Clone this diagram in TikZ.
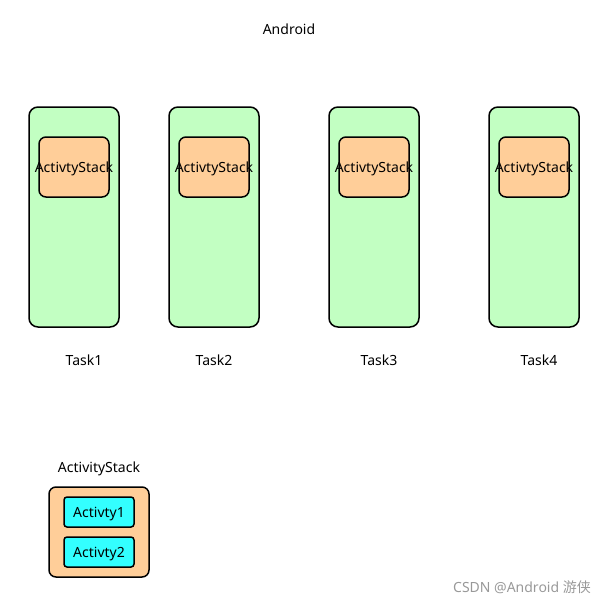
\documentclass[tikz,border=0pt]{standalone}
\usepackage{fontspec}
\setmainfont{Noto Sans}
\newfontfamily\cjk{Noto Sans CJK SC}
\begin{document}
\begin{tikzpicture}[x=1pt,y=-1pt,
  task/.style={draw,line width=1.5pt,rounded corners=9pt,fill={rgb,255:red,194;green,255;blue,194}},
  stackbox/.style={draw,line width=1.5pt,rounded corners=7pt,fill={rgb,255:red,255;green,206;blue,153}},
  actbox/.style={draw,line width=1.5pt,rounded corners=3pt,fill={rgb,255:red,51;green,255;blue,255}},
  lbl/.style={font=\fontsize{14pt}{16pt}\selectfont,inner sep=0pt}]
\useasboundingbox (0,0) rectangle (614,603);
\node[lbl] (android) at (289,29) {Android};
\foreach \x/\n/\tx in {29/1/84,169/2/214,329/3/379,489/4/539}{
  \draw[task] (\x,107) rectangle ++(90,220);
  \draw[stackbox] (\x+10,137) rectangle ++(70,60);
  \node[lbl] (s\n) at (\x+45,169) {ActivtyStack};
  \node[lbl] (t\n) at (\tx,360) {Task\n};
}
\node[lbl] (as) at (99,469) {ActivityStack};
\draw[stackbox] (49,487) rectangle (149,577);
\draw[actbox] (64,497) rectangle (134,527);
\node[lbl] (a1) at (99,514) {Activty1};
\draw[actbox] (64,537) rectangle (134,567);
\node[lbl] (a2) at (99,554) {Activty2};
\node[lbl,text=gray!80] (wm) at (522,587) {CSDN @Android {\cjk 游侠}};
\end{tikzpicture}
\end{document}
